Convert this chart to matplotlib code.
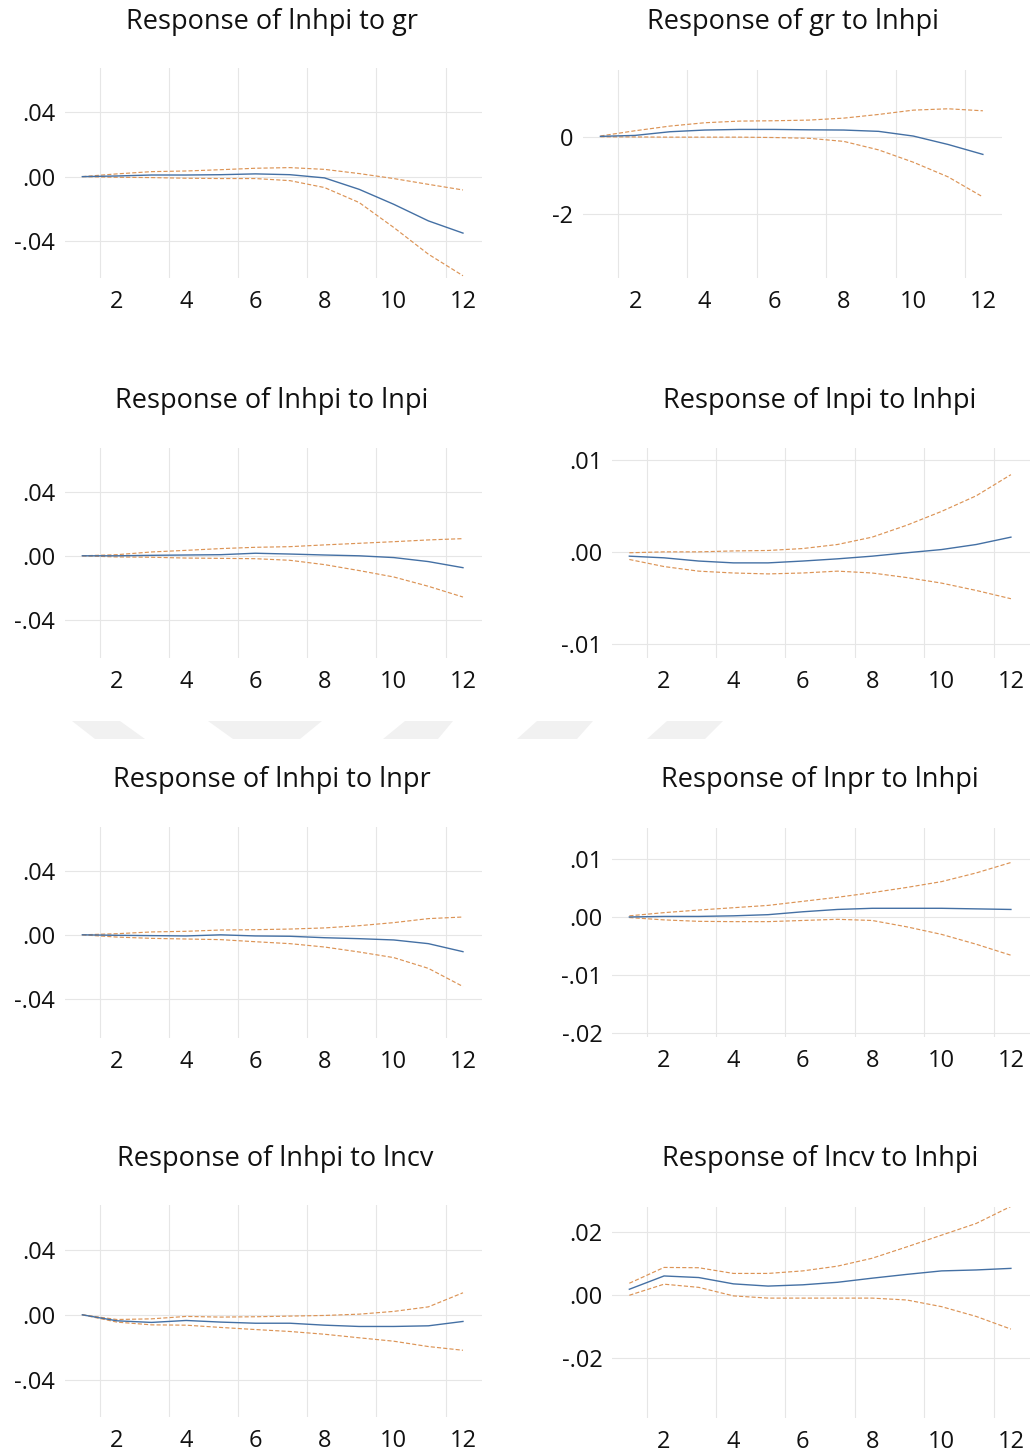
import numpy as np
import matplotlib
matplotlib.use("Agg")
import matplotlib.pyplot as plt
from matplotlib.patches import Polygon

plt.rcParams['font.family'] = ['Open Sans', 'DejaVu Sans']

# --- data: impulse responses (mid) and +/- 2 s.e. bands, periods 1..12 ---
periods = np.arange(1, 13)

titles = [
    "Response of lnhpi to gr", "Response of gr to lnhpi",
    "Response of lnhpi to lnpi", "Response of lnpi to lnhpi",
    "Response of lnhpi to lnpr", "Response of lnpr to lnhpi",
    "Response of lnhpi to lncv", "Response of lncv to lnhpi",
]

hpi_gr_mid = [0, 0.0004, 0.001, 0.001, 0.0012, 0.0017, 0.0012, -0.0008, -0.0079, -0.0172, -0.0275, -0.0351]
hpi_gr_up = [0, 0.0017, 0.0031, 0.0035, 0.0043, 0.0052, 0.0056, 0.0045, 0.0019, -0.0012, -0.0048, -0.0083]
hpi_gr_lo = [0, -0.0004, -0.0006, -0.001, -0.0012, -0.0012, -0.0025, -0.0068, -0.0161, -0.0316, -0.0482, -0.0616]

gr_hpi_mid = [0.01, 0.035, 0.13, 0.174, 0.19, 0.19, 0.18, 0.174, 0.14, 0.018, -0.2, -0.457]
gr_hpi_up = [0.02, 0.156, 0.277, 0.363, 0.406, 0.415, 0.432, 0.483, 0.578, 0.69, 0.725, 0.673]
gr_hpi_lo = [0.0, -0.005, -0.01, -0.01, -0.01, -0.02, -0.04, -0.12, -0.34, -0.66, -1.04, -1.56]

hpi_pi_mid = [0, 0, 0.0003, 0.0005, 0.0007, 0.0016, 0.0011, 0.0005, 0, -0.0011, -0.0036, -0.0074]
hpi_pi_up = [0, 0.0007, 0.0024, 0.0034, 0.0045, 0.0053, 0.0057, 0.0068, 0.0078, 0.0088, 0.0099, 0.0107]
hpi_pi_lo = [0, -0.0007, -0.0009, -0.0014, -0.0016, -0.0018, -0.0028, -0.0055, -0.0092, -0.0132, -0.019, -0.0257]

pi_hpi_mid = [-0.00047, -0.00065, -0.001, -0.0012, -0.0012, -0.001, -0.00076, -0.00047, -0.0001, 0.00025, 0.0008, 0.0016]
pi_hpi_up = [-0.0001, 0, 0, 0.0001, 0.00015, 0.00036, 0.0008, 0.0016, 0.0029, 0.0044, 0.0061, 0.0084]
pi_hpi_lo = [-0.00083, -0.0016, -0.0021, -0.0023, -0.0024, -0.0023, -0.0021, -0.0023, -0.0028, -0.0034, -0.0042, -0.0051]

hpi_pr_mid = [0, -0.0003, -0.0005, -0.0007, 0, -0.0007, -0.0009, -0.0018, -0.0024, -0.0032, -0.0055, -0.0105]
hpi_pr_up = [0, 0.0007, 0.0018, 0.0022, 0.003, 0.0032, 0.0036, 0.0043, 0.0057, 0.0076, 0.0101, 0.0111]
hpi_pr_lo = [0, -0.0014, -0.0022, -0.0026, -0.003, -0.0043, -0.0055, -0.0076, -0.0107, -0.0142, -0.0209, -0.0322]

pr_hpi_mid = [0, 0.0001, 0.0001, 0.0002, 0.0004, 0.0009, 0.0013, 0.0015, 0.0015, 0.0015, 0.0014, 0.0013]
pr_hpi_up = [0.0002, 0.00075, 0.0012, 0.0016, 0.002, 0.0027, 0.0034, 0.0042, 0.0051, 0.0061, 0.0076, 0.0094]
pr_hpi_lo = [-0.0001, -0.0005, -0.00075, -0.0008, -0.0008, -0.0006, -0.0004, -0.0006, -0.0017, -0.003, -0.0047, -0.0066]

hpi_cv_mid = [0, -0.0037, -0.0047, -0.0035, -0.0045, -0.0052, -0.0052, -0.0064, -0.0072, -0.0072, -0.0068, -0.0041]
hpi_cv_up = [0, -0.0029, -0.0025, -0.001, -0.0014, -0.0012, -0.0008, -0.0004, 0.0004, 0.0021, 0.0049, 0.0136]
hpi_cv_lo = [0, -0.0045, -0.0062, -0.0064, -0.0078, -0.0091, -0.0103, -0.012, -0.0142, -0.0163, -0.0196, -0.0219]

cv_hpi_mid = [0.0018, 0.006, 0.0055, 0.0035, 0.0028, 0.0032, 0.004, 0.0053, 0.0065, 0.0076, 0.0079, 0.0084]
cv_hpi_up = [0.0037, 0.0087, 0.0086, 0.0068, 0.0068, 0.0076, 0.0091, 0.0116, 0.0152, 0.0189, 0.0226, 0.028]
cv_hpi_lo = [-0.0001, 0.0034, 0.0024, -0.0003, -0.001, -0.001, -0.001, -0.001, -0.0016, -0.0037, -0.0068, -0.0108]

series = [
    (hpi_gr_mid, hpi_gr_up, hpi_gr_lo), (gr_hpi_mid, gr_hpi_up, gr_hpi_lo),
    (hpi_pi_mid, hpi_pi_up, hpi_pi_lo), (pi_hpi_mid, pi_hpi_up, pi_hpi_lo),
    (hpi_pr_mid, hpi_pr_up, hpi_pr_lo), (pr_hpi_mid, pr_hpi_up, pr_hpi_lo),
    (hpi_cv_mid, hpi_cv_up, hpi_cv_lo), (cv_hpi_mid, cv_hpi_up, cv_hpi_lo),
]

left_ticks = [0.04, 0.0, -0.04]
left_labels = [".04", ".00", "-.04"]
yticks = [
    (left_ticks, left_labels), ([0, -2], ["0", "-2"]),
    (left_ticks, left_labels), ([0.01, 0.0, -0.01], [".01", ".00", "-.01"]),
    (left_ticks, left_labels), ([0.01, 0.0, -0.01, -0.02], [".01", ".00", "-.01", "-.02"]),
    (left_ticks, left_labels), ([0.02, 0.0, -0.02], [".02", ".00", "-.02"]),
]
ylims = [
    (-0.063, 0.0675), (-3.66, 1.73),
    (-0.0637, 0.0672), (-0.01155, 0.0113),
    (-0.0643, 0.0672), (-0.0207, 0.01535),
    (-0.0631, 0.0678), (-0.0389, 0.0278),
]
xtick_vals = [2, 4, 6, 8, 10, 12]

# --- layout (pixel boxes: x0, y0, x1, y1) ---
W, H = 1032, 1452
boxes = [
    (65, 68, 482, 278), (583, 70, 1002, 278),
    (65, 448, 482, 658), (612, 448, 1030, 658),
    (65, 827, 482, 1038), (612, 828, 1030, 1037),
    (65, 1205, 482, 1417), (612, 1207, 1030, 1418),
]
title_pos = [
    (272, 22), (793, 22),
    (272, 401), (820, 401),
    (272, 780), (820, 780),
    (275, 1159), (820, 1159),
]

fig = plt.figure(figsize=(W / 100, H / 100), dpi=100)

# faint watermark shapes between the second and third rows
wm_shapes = [
    [(72, 721), (120, 721), (145, 739), (95, 739)],
    [(208, 721), (322, 721), (300, 739), (233, 739)],
    [(405, 721), (453, 721), (438, 739), (383, 739)],
    [(537, 721), (593, 721), (577, 739), (517, 739)],
    [(667, 721), (723, 721), (705, 739), (647, 739)],
]
for shp in wm_shapes:
    pts = [(x / W, 1 - y / H) for x, y in shp]
    fig.patches.append(Polygon(pts, closed=True, transform=fig.transFigure,
                               facecolor='#F1F1F1', edgecolor='none', zorder=0))

blue = '#4470A4'
orange = '#DC9456'
grid_c = '#E6E6E6'

for i in range(8):
    x0, y0, x1, y1 = boxes[i]
    ax = fig.add_axes([x0 / W, 1 - y1 / H, (x1 - x0) / W, (y1 - y0) / H])
    mid, up, lo = series[i]
    ax.plot(periods, up, color=orange, lw=0.85, ls=(0, (3.5, 1.8)))
    ax.plot(periods, lo, color=orange, lw=0.85, ls=(0, (3.5, 1.8)))
    ax.plot(periods, mid, color=blue, lw=1.0)

    ax.set_xlim(0.5, 12.55)
    ax.set_ylim(*ylims[i])
    ax.set_xticks(xtick_vals)
    ax.set_xticks(np.arange(1.5, 12, 2), minor=True)
    ax.set_yticks(yticks[i][0])
    ax.set_yticklabels(yticks[i][1])
    ax.grid(which='minor', axis='x', color=grid_c, lw=0.8)
    ax.grid(which='major', axis='y', color=grid_c, lw=0.8)
    ax.set_axisbelow(True)
    ax.tick_params(which='both', length=0, labelsize=17, colors='#111111')
    ax.tick_params(axis='x', pad=8.5)
    ax.tick_params(axis='y', pad=7)
    for s in ax.spines.values():
        s.set_visible(False)

    tx, ty = title_pos[i]
    fig.text(tx / W, 1 - ty / H, titles[i], ha='center', va='center',
             fontsize=19.5, color='#111111')

fig.savefig('out.png', dpi=100, facecolor='white')
